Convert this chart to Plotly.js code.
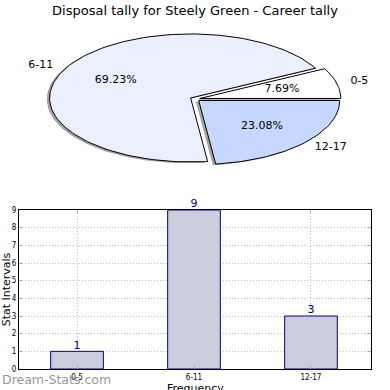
<!DOCTYPE html>
<html>
<head>
<meta charset="utf-8">
<script src="https://cdn.plot.ly/plotly-3.0.1.min.js"></script>
<style>html,body{margin:0;padding:0;background:#fff;}#chart{width:390px;height:390px;}</style>
</head>
<body>
<div id="chart"></div>
<script>
// ---- data ----
const categories = ['0-5', '6-11', '12-17'];
const counts = [1, 9, 3];
const pieColors = ['#ffffff', '#eaf0ff', '#c6d8ff'];
const explode = [0.035, 0.035, 0.035];
const titleText = 'Disposal tally for Steely Green - Career tally';
const xTitle = 'Frequency';
const yTitle = 'Stat Intervals';

// ---- pie geometry (elliptical, matplotlib-style, on hidden axes) ----
const total = counts.reduce((a, b) => a + b, 0);
const traces = [];
const shadowTraces = [];
const sliceTraces = [];
const pctX = [], pctY = [], pctT = [];
let start = 0;
const labelL = {x: [], y: [], t: []}, labelR = {x: [], y: [], t: []};
counts.forEach((v, i) => {
  const frac = v / total;
  const t1 = start * 2 * Math.PI, t2 = (start + frac) * 2 * Math.PI;
  const mid = (t1 + t2) / 2;
  const ox = explode[i] * Math.cos(mid), oy = explode[i] * Math.sin(mid);
  const xs = [ox], ys = [oy];
  const n = Math.max(4, Math.ceil(frac * 180));
  for (let k = 0; k <= n; k++) {
    const a = t1 + (t2 - t1) * k / n;
    xs.push(ox + Math.cos(a)); ys.push(oy + Math.sin(a));
  }
  xs.push(ox); ys.push(oy);
  shadowTraces.push({type: 'scatter', mode: 'lines', xaxis: 'x2', yaxis: 'y2',
    x: xs.map(x => x - 0.02), y: ys.map(y => y - 0.02), fill: 'toself',
    fillcolor: 'rgba(70,70,70,0.5)', line: {width: 0, color: 'rgba(0,0,0,0)'},
    hoverinfo: 'skip', showlegend: false});
  sliceTraces.push({type: 'scatter', mode: 'lines', xaxis: 'x2', yaxis: 'y2',
    x: xs, y: ys, fill: 'toself', fillcolor: pieColors[i],
    line: {width: 1, color: '#000'}, hoverinfo: 'skip', showlegend: false});
  pctX.push(ox + 0.6 * Math.cos(mid)); pctY.push(oy + 0.6 * Math.sin(mid));
  pctT.push((frac * 100).toFixed(2) + '%');
  const lx = ox + 1.1 * Math.cos(mid), ly = oy + 1.1 * Math.sin(mid);
  const tgt = lx < 0 ? labelL : labelR;
  tgt.x.push(lx); tgt.y.push(ly); tgt.t.push(categories[i]);
  start += frac;
});
traces.push(...shadowTraces, ...sliceTraces);
traces.push({type: 'scatter', mode: 'text', xaxis: 'x2', yaxis: 'y2', x: pctX, y: pctY, text: pctT,
  textposition: 'middle center', textfont: {family: 'DejaVu Sans', size: 11, color: '#000'},
  hoverinfo: 'skip', showlegend: false, cliponaxis: false});
traces.push({type: 'scatter', mode: 'text', xaxis: 'x2', yaxis: 'y2', x: labelL.x, y: labelL.y, text: labelL.t,
  textposition: 'middle left', textfont: {family: 'DejaVu Sans', size: 11, color: '#000'},
  hoverinfo: 'skip', showlegend: false, cliponaxis: false});
traces.push({type: 'scatter', mode: 'text', xaxis: 'x2', yaxis: 'y2', x: labelR.x, y: labelR.y, text: labelR.t,
  textposition: 'middle right', textfont: {family: 'DejaVu Sans', size: 11, color: '#000'},
  hoverinfo: 'skip', showlegend: false, cliponaxis: false});

// ---- bar chart ----
traces.push({type: 'bar', x: categories, y: counts, width: 0.45,
  marker: {color: '#ccccdf', line: {color: '#000080', width: 1}},
  hoverinfo: 'x+y', showlegend: false});
traces.push({type: 'scatter', mode: 'text', x: categories, y: counts, text: counts.map(String),
  textposition: 'top center', textfont: {family: 'DejaVu Sans', size: 11, color: '#000080'},
  cliponaxis: false, hoverinfo: 'skip', showlegend: false});

const H = 364; // plot area height in px (top 5 -> bottom 369)
const axisCommon = {showline: true, linecolor: '#000', linewidth: 1, mirror: 'allticks',
  ticks: 'inside', ticklen: 3, tickcolor: '#aaa', showgrid: true, gridcolor: '#bdbdbd',
  griddash: '1px,2px', gridwidth: 1, zeroline: false,
  tickfont: {family: 'DejaVu Sans Condensed, DejaVu Sans', size: 8, color: '#000'}};

const layout = {
  width: 390, height: 390,
  margin: {l: 19, r: 19, t: 5, b: 21},
  paper_bgcolor: '#fff', plot_bgcolor: '#fff',
  showlegend: false,
  title: {text: titleText, x: 0.5, xref: 'paper', y: 1 - 10 / 390, yref: 'container', yanchor: 'middle',
    font: {family: 'DejaVu Sans', size: 13, color: '#000', weight: 'normal'}},
  xaxis: Object.assign({}, axisCommon, {domain: [0, 1], type: 'category', range: [-0.496, 2.513],
    anchor: 'y'}),
  yaxis: Object.assign({}, axisCommon, {domain: [0, (369 - 210) / H], range: [0, 9], dtick: 1,
    anchor: 'x', title: {text: yTitle, standoff: 1, font: {family: 'DejaVu Sans', size: 11, color: '#000'}}}),
  xaxis2: {domain: [0, 1], range: [-1.248, 1.248], anchor: 'y2', visible: false, fixedrange: true},
  yaxis2: {domain: [(369 - 190) / H, 1], range: [-1.422, 1.469], anchor: 'x2', visible: false, fixedrange: true},
  annotations: [
    {text: xTitle, xref: 'paper', yref: 'paper', x: 0.5, y: (369 - 380) / H,
      xanchor: 'center', yanchor: 'top', showarrow: false,
      font: {family: 'DejaVu Sans', size: 11, color: '#000'}},
    {text: 'Dream-Stats.com', xref: 'paper', yref: 'paper',
      x: -19 / 352, y: (369 - 380) / H, xanchor: 'left', yanchor: 'middle', showarrow: false,
      font: {family: 'DejaVu Sans', size: 12.5, color: 'rgba(130,130,130,0.85)'}}]
};

Plotly.newPlot('chart', traces, layout, {displayModeBar: false, staticPlot: true});
</script>
</body>
</html>
